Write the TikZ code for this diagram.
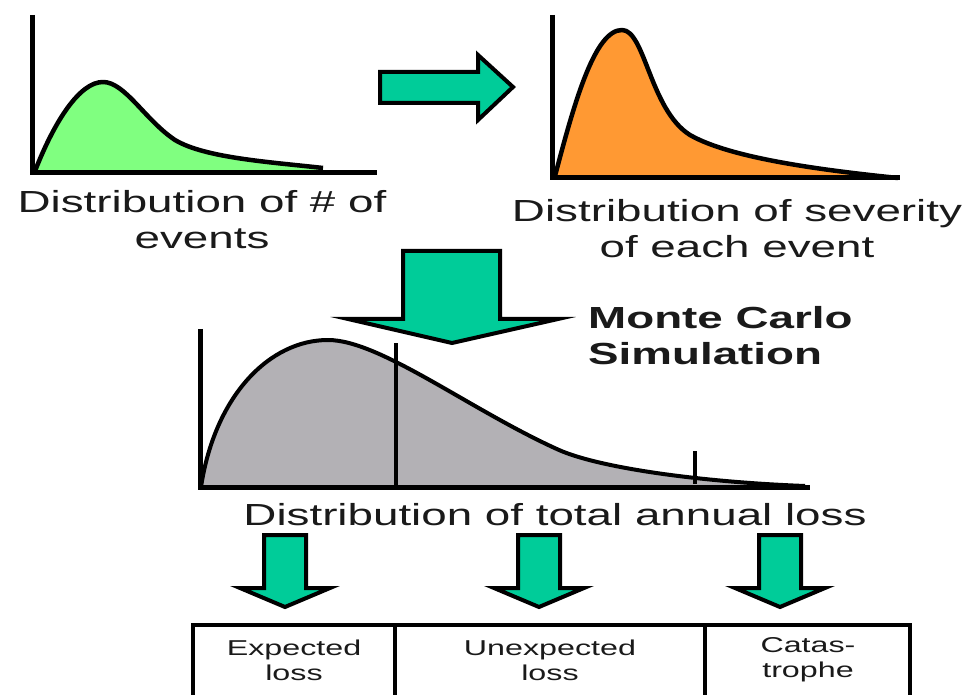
\documentclass[tikz,border=0pt]{standalone}
\usepackage{fontspec}
\setmainfont{Liberation Sans}
\usepackage{graphicx}
\newcommand{\hs}[1]{\scalebox{1.5}[1]{#1}}
\definecolor{arrowteal}{HTML}{00CC99}
\definecolor{curvegreen}{HTML}{80FF80}
\definecolor{curveorange}{HTML}{FF9933}
\definecolor{curvegray}{HTML}{B3B1B5}
\definecolor{txt}{HTML}{1A1A1A}
\tikzset{
  axisline/.style={line width=5pt, line cap=butt},
  curveline/.style={line width=4.5pt, line join=round},
  blockarrow/.style={fill=arrowteal, draw=black, line width=4pt, line join=miter},
  bigtext/.style={inner sep=0pt, align=center, text=txt, font=\fontsize{30.5}{36}\selectfont},
  boxtext/.style={inner sep=0pt, align=center, text=txt, font=\fontsize{21.5}{25}\selectfont},
  losscell/.style={draw=black, line width=4pt, minimum height=72pt, inner sep=0pt},
}
\begin{document}
\begin{tikzpicture}[x=1pt, y=-1pt]
\useasboundingbox (0,0) rectangle (970,695);
\fill[white] (0,0) rectangle (970,695);

% ---- top-left chart (number of events)
\fill[curvegreen] (35,171) .. controls (55,120) and (80,82) .. (103,82)
  .. controls (125,82) and (145,120) .. (175,140)
  .. controls (205,158) and (270,162) .. (323,168) -- (323,172) -- cycle;
\draw[curveline] (35,171) .. controls (55,120) and (80,82) .. (103,82)
  .. controls (125,82) and (145,120) .. (175,140)
  .. controls (205,158) and (270,162) .. (323,168);
\draw[axisline] (32,15) -- (32,173) -- (377,173);
\node[bigtext] (tevents) at (202,220) {\hs{Distribution of \# of}\\\hs{events}};

% ---- top-right chart (severity)
\fill[curveorange] (555,176) .. controls (575,100) and (595,30) .. (622,30)
  .. controls (645,30) and (650,110) .. (690,135)
  .. controls (730,158) and (820,170) .. (898,178) -- cycle;
\draw[curveline] (555,176) .. controls (575,100) and (595,30) .. (622,30)
  .. controls (645,30) and (650,110) .. (690,135)
  .. controls (730,158) and (820,170) .. (898,178);
\draw[axisline] (552,15) -- (552,178) -- (900,178);
\node[bigtext] (tseverity) at (737,229) {\hs{Distribution of severity}\\\hs{of each event}};

% ---- right arrow between top charts
\draw[blockarrow] (380,72) -- (478,72) -- (478,55) -- (513,87) -- (478,120) -- (478,103) -- (380,103) -- cycle;

% ---- big down arrow
\draw[blockarrow] (403,251) -- (500,251) -- (500,319) -- (558,319) -- (452,343) -- (348,319) -- (403,319) -- cycle;

\node[anchor=west, inner sep=0pt, align=left, text=txt, font=\fontsize{30.5}{36}\selectfont\bfseries] (tmc) at (588,336) {\hs{Monte Carlo}\\\hs{Simulation}};

% ---- lower chart (total annual loss)
\fill[curvegray] (201,487) .. controls (215,395) and (270,340) .. (328,340)
  .. controls (380,340) and (470,410) .. (559,450)
  .. controls (600,468) and (700,482) .. (805,486) -- (805,487) -- cycle;
\draw[curveline, line width=4pt] (201,487) .. controls (215,395) and (270,340) .. (328,340)
  .. controls (380,340) and (470,410) .. (559,450)
  .. controls (600,468) and (700,482) .. (805,486);
\draw[axisline] (200,329) -- (200,487) -- (810,487);
\draw[line width=4.5pt] (396,343) -- (396,487);
\draw[line width=4pt] (695,451) -- (695,484);
\node[bigtext] (ttotal) at (555,515) {\hs{Distribution of total annual loss}};

% ---- small down arrows
\foreach \c in {285,539,780}{
  \draw[blockarrow] (\c-21,535) -- (\c+21,535) -- (\c+21,588) -- (\c+45,588) -- (\c,607) -- (\c-45,588) -- (\c-21,588) -- cycle;
}

% ---- loss cells
\node[losscell, minimum width=202pt] (cexp) at (294,661) {};
\node[losscell, minimum width=310pt] (cunexp) at (550,661) {};
\node[losscell, minimum width=205pt] (ccat) at (807.5,661) {};
\node[boxtext] at (294,660) {\hs{Expected}\\\hs{loss}};
\node[boxtext] at (550,660) {\hs{Unexpected}\\\hs{loss}};
\node[boxtext] at (808,660) {\hs{Catas-}\\\hs{trophe}};
\end{tikzpicture}
\end{document}
